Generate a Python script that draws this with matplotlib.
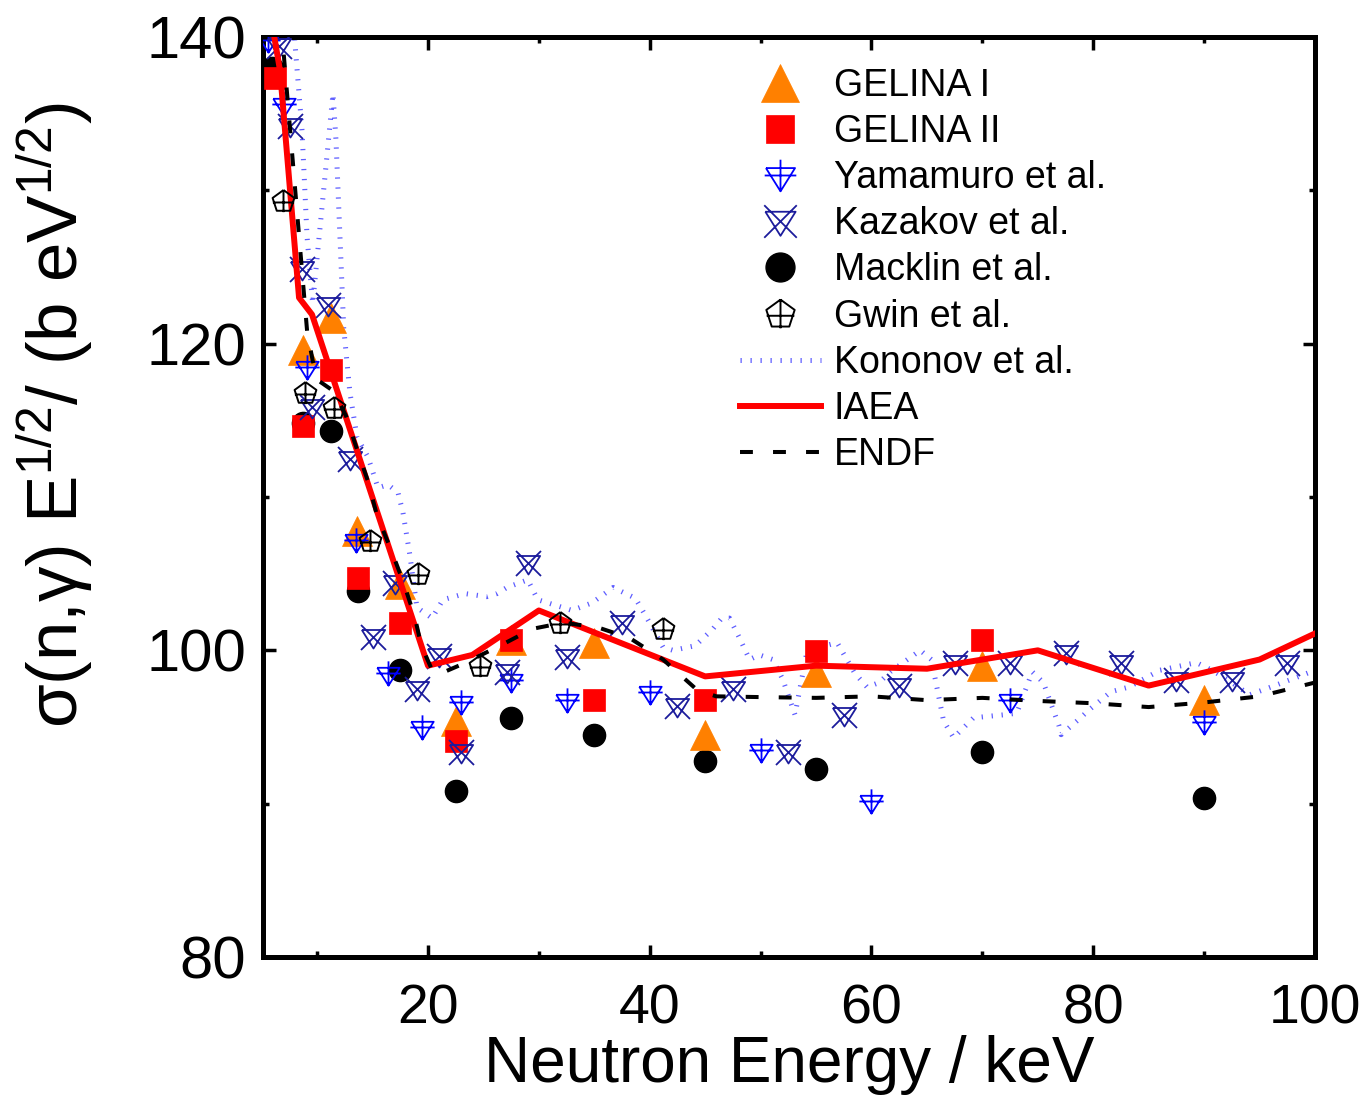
import matplotlib
matplotlib.use('Agg')
import matplotlib.pyplot as plt
from matplotlib.path import Path
from matplotlib.ticker import MultipleLocator

plt.rcParams['font.family'] = ['Liberation Sans', 'DejaVu Sans']
plt.rcParams['mathtext.fontset'] = 'custom'
plt.rcParams['mathtext.rm'] = 'Liberation Sans'
plt.rcParams['mathtext.it'] = 'Liberation Sans:italic'

# ---------------- data (keV, sigma*sqrt(E)) ----------------
gel1_x = [8.75, 11.25, 13.6, 17.5, 22.5, 27.5, 35.0, 45.0, 55.0, 70.0, 90.0]
gel1_y = [119.6, 121.7, 107.8, 104.3, 95.4, 100.7, 100.5, 94.5, 98.6, 99.0, 96.75]

gel2_x = [6.2, 8.7, 11.25, 13.7, 17.5, 22.5, 27.5, 35.0, 45.0, 55.0, 70.0]
gel2_y = [137.3, 114.6, 118.3, 104.7, 101.8, 94.1, 100.7, 96.75, 96.75, 99.95, 100.7]

yama_x = [5.6, 7.0, 9.1, 13.5, 16.4, 19.5, 23.0, 27.5, 32.5, 40.0, 50.0, 60.0, 72.5, 90.0]
yama_y = [139.8, 135.6, 118.5, 107.2, 98.5, 95.0, 96.6, 98.05, 96.75, 97.3, 93.5, 90.2, 96.75, 95.3]

kaza_x = [6.6, 7.55, 8.64, 9.5, 11.0, 13.0, 15.0, 17.0, 19.0, 21.0, 23.0, 27.1, 29.0,
          32.5, 37.5, 42.5, 47.5, 52.5, 57.5, 62.5, 67.5, 72.5, 77.5, 82.5, 87.5, 92.5, 97.5]
kaza_y = [139.4, 134.2, 124.9, 115.9, 122.5, 112.5, 100.9, 104.4, 97.5, 99.6, 93.4, 98.6, 105.7,
          99.55, 101.8, 96.4, 97.5, 93.4, 95.8, 97.7, 99.2, 99.2, 99.8, 99.2, 98.05, 98.05, 99.2]

mack_x = [5.9, 8.7, 11.25, 13.7, 17.5, 22.5, 27.5, 35.0, 45.0, 55.0, 70.0, 90.0]
mack_y = [138.0, 114.8, 114.3, 103.9, 98.7, 90.8, 95.6, 94.5, 92.8, 92.25, 93.35, 90.35]

gwin_x = [6.9, 8.9, 11.5, 14.8, 19.1, 24.7, 31.9, 41.2]
gwin_y = [129.3, 116.8, 115.8, 107.1, 105.0, 99.0, 101.8, 101.4]

kono_x = [7.9, 8.64, 9.09, 9.6, 11.43, 11.7, 12.4, 12.96, 13.6, 14.59, 15.49, 16.39, 17.29,
          17.74, 18.37, 19.0, 20.36, 21.35, 23.33, 25.32, 26.22, 27.12, 29.0, 29.9, 33.0,
          34.8, 36.7, 38.7, 39.75, 41.2, 42.1, 44.1, 45.7, 46.5, 47.2, 48.1, 49.0, 49.9,
          51.1, 52.0, 53.1, 54.2, 56.9, 58.5, 59.6, 60.7, 61.7, 64.4, 65.4, 66.5, 67.4,
          69.2, 72.0, 73.1, 74.5, 75.5, 76.9, 77.1, 78.7, 79.6, 81.6, 83.2, 86.0, 89.3,
          90.7, 92.1, 94.1, 96.0, 98.2, 100.0]
kono_y = [140.5, 133.9, 127.0, 122.6, 136.3, 133.3, 121.0, 116.8, 113.9, 112.6, 110.6, 110.8, 110.3,
          109.0, 106.2, 102.8, 102.1, 103.3, 103.7, 103.5, 103.7, 104.1, 104.6, 103.3, 102.6,
          103.1, 104.1, 103.4, 102.1, 100.2, 100.0, 100.3, 101.4, 102.1, 102.1, 100.8, 99.4, 99.7,
          99.4, 98.1, 95.8, 100.0, 100.5, 98.5, 97.6, 97.9, 98.6, 100.0, 99.4, 95.4, 94.3,
          95.6, 95.8, 95.9, 98.6, 97.9, 95.1, 94.5, 95.5, 96.1, 97.3, 97.6, 98.7, 99.2,
          98.7, 98.1, 97.1, 97.6, 98.2, 98.7]

iaea_x = [5.9, 6.65, 8.37, 9.54, 20.0, 24.0, 30.0, 45.0, 55.0, 65.0, 75.0, 85.0, 95.0, 100.0]
iaea_y = [141.0, 137.85, 123.0, 121.9, 99.0, 99.7, 102.6, 98.3, 99.0, 98.8, 100.0, 97.7, 99.4, 101.1]

endf_x = [6.8, 7.0, 9.1, 9.6, 10.1, 10.9, 11.5, 12.6, 13.6, 14.6, 15.4, 16.7, 17.8, 18.8, 19.4,
          20.5, 21.5, 23.1, 26.5, 29.4, 32.2, 35.3, 38.2, 41.2, 44.3, 46.0, 50.0, 55.0, 60.0,
          65.0, 70.0, 75.0, 80.0, 85.0, 90.0, 95.0, 100.0]
endf_y = [141.0, 138.8, 120.8, 118.9, 117.6, 117.2, 116.9, 115.3, 113.1, 111.0, 108.8, 106.5, 104.4,
          102.2, 100.3, 98.5, 98.6, 99.1, 100.3, 101.4, 101.8, 101.5, 100.8, 99.4, 97.4, 97.0,
          96.95, 96.9, 97.0, 96.75, 96.9, 96.7, 96.55, 96.3, 96.6, 97.0, 97.9]

labels = ['GELINA I', 'GELINA II', 'Yamamuro et al.', 'Kazakov et al.', 'Macklin et al.',
          'Gwin et al.', 'Kononov et al.', 'IAEA', 'ENDF']


# ---------------- custom markers ----------------
def make_marker(segments):
    verts, codes = [], []
    for seg in segments:
        verts.extend(seg)
        codes.extend([Path.MOVETO] + [Path.LINETO] * (len(seg) - 1))
    return Path(verts, codes)


yama_marker = make_marker([
    [(-0.92, 0.47), (0.92, 0.47), (0.0, -1.0), (-0.92, 0.47)],
    [(0.0, 1.0), (0.0, -1.0)],
    [(-1.0, 0.0), (1.0, 0.0)],
])
kaza_marker = make_marker([
    [(-0.93, 0.6), (0.93, 0.6), (0.0, -0.88), (-0.93, 0.6)],
    [(-1.0, 1.0), (1.0, -1.0)],
    [(1.0, 1.0), (-1.0, -1.0)],
])
gwin_marker = make_marker([
    [(0.0, 1.0), (0.951, 0.309), (0.588, -0.809), (-0.588, -0.809), (-0.951, 0.309), (0.0, 1.0)],
    [(0.0, 1.0), (0.0, -0.93)],
    [(-0.93, -0.085), (0.93, -0.085)],
])

# ---------------- figure ----------------
fig = plt.figure(figsize=(13.71, 10.98), dpi=100)
ax = fig.add_axes([263 / 1371, 1 - 957 / 1098, (1315 - 263) / 1371, (957 - 37) / 1098])

h_kono, = ax.plot(kono_x, kono_y, color='#4040ff', alpha=0.85, lw=3.6,
                  linestyle=(0, (0.25, 1.75)), solid_capstyle='butt', dash_capstyle='butt', zorder=1)
h_mack, = ax.plot(mack_x, mack_y, 'o', ms=16, color='black', mec='black', ls='none', zorder=3)
h_g1, = ax.plot(gel1_x, gel1_y, '^', ms=21, color='#ff8000', mec='#ff8000', mew=0.5, ls='none', zorder=3)
h_g2, = ax.plot(gel2_x, gel2_y, 's', ms=16, color='#ff0000', mec='#ff0000', mew=0.5, ls='none', zorder=3)
h_yama, = ax.plot(yama_x, yama_y, marker=yama_marker, ms=17.5, mfc='none', mec='#0000ff',
                  mew=1.3, ls='none', zorder=3)
h_kaza, = ax.plot(kaza_x, kaza_y, marker=kaza_marker, ms=18, mfc='none', mec='#1c1c9c',
                  mew=1.3, ls='none', zorder=3)
h_gwin, = ax.plot(gwin_x, gwin_y, marker=gwin_marker, ms=16.5, mfc='none', mec='black',
                  mew=1.4, ls='none', zorder=5)
h_iaea, = ax.plot(iaea_x, iaea_y, color='#ff0000', lw=4.3, zorder=4)
h_endf, = ax.plot(endf_x, endf_y, color='black', lw=2.9, linestyle=(0, (3.2, 5.0)), zorder=4.5)

ax.set_xlim(5.12, 100)
ax.set_ylim(80, 140)
ax.xaxis.set_major_locator(MultipleLocator(20))
ax.xaxis.set_minor_locator(MultipleLocator(10))
ax.yaxis.set_major_locator(MultipleLocator(20))
ax.yaxis.set_minor_locator(MultipleLocator(10))
ax.tick_params(which='both', direction='in', top=True, right=True, width=2.5)
ax.tick_params(axis='x', which='both', labelsize=40, pad=19)
ax.tick_params(axis='y', which='both', labelsize=43, pad=12)
ax.tick_params(which='major', length=9)
ax.tick_params(which='minor', length=4.5)
for s in ax.spines.values():
    s.set_linewidth(3.6)

ax.set_xlabel('Neutron Energy / keV', fontsize=46, labelpad=0)
ax.set_ylabel(r'σ(n,γ) E$^{1/2}$/ (b eV$^{1/2}$)', fontsize=51)
ax.yaxis.set_label_coords(-0.159, 0.589)

handles = [h_g1, h_g2, h_yama, h_kaza, h_mack, h_gwin, h_kono, h_iaea, h_endf]
ax.legend(handles, labels, loc='upper left', bbox_to_anchor=(740 / 1371, 1 - 68 / 1098),
          bbox_transform=fig.transFigure, frameon=False, fontsize=27, markerscale=1.3,
          handlelength=2.15, handletextpad=0.35, labelspacing=0.27, borderpad=0,
          borderaxespad=0, numpoints=1)

fig.savefig('out.png', dpi=100)
